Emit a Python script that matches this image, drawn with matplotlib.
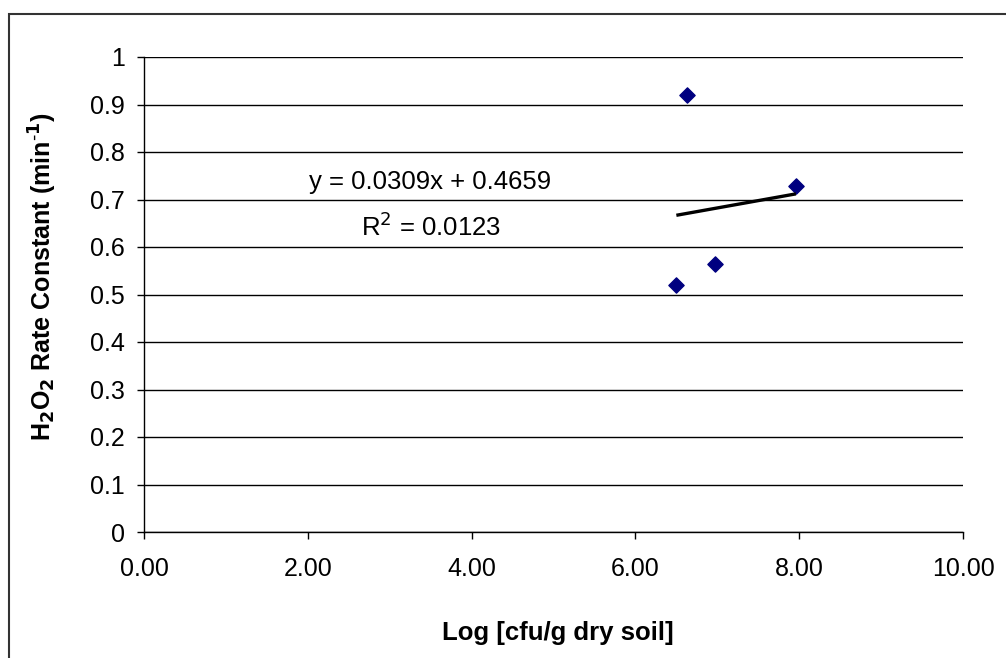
import numpy as np
import matplotlib
matplotlib.use("Agg")
import matplotlib.pyplot as plt
from matplotlib.patches import Rectangle
from matplotlib.ticker import FuncFormatter

plt.rcParams['font.family'] = ['Liberation Sans', 'DejaVu Sans']

# Data
log_cfu = [6.50, 6.626, 6.97, 7.96]
rate_constant = [0.520, 0.9206, 0.5636, 0.729]
eq_slope = 0.0309
eq_intercept = 0.4659
eq_label = "y = 0.0309x + 0.4659"
r2_label = "R$^2$ = 0.0123"
x_ticks = [0, 2, 4, 6, 8, 10]
y_ticks = [0, 0.1, 0.2, 0.3, 0.4, 0.5, 0.6, 0.7, 0.8, 0.9, 1.0]

W, H = 1006, 658
fig = plt.figure(figsize=(W / 100, H / 100), dpi=100)

# outer chart border
fig.patches.append(Rectangle((9 / W, -0.1), 1.2, (H - 14) / H + 0.1,
                             transform=fig.transFigure, fill=False,
                             edgecolor='#333333', linewidth=1.5))

ax = fig.add_axes([144 / W, 1 - 532 / H, (963 - 144) / W, (532 - 57) / H])
ax.set_xlim(0, 10)
ax.set_ylim(0, 1)

for yv in y_ticks:
    ax.axhline(yv, color='black', linewidth=1.0, zorder=1)

ax.scatter(log_cfu, rate_constant, marker='D', s=60, color='#000080',
           edgecolors='#000080', zorder=3)

xs = np.array([min(log_cfu), max(log_cfu)])
ax.plot(xs, eq_slope * xs + eq_intercept, color='black', linewidth=2.4,
        solid_capstyle='butt', zorder=4)

ax.text(3.49, 0.737, eq_label, ha='center', va='center', fontsize=18.5)
ax.text(3.51, 0.642, r2_label, ha='center', va='center', fontsize=18.5)

ax.set_xticks(x_ticks)
ax.set_yticks(y_ticks)
ax.xaxis.set_major_formatter(FuncFormatter(lambda v, p: f"{v:.2f}"))
ax.yaxis.set_major_formatter(FuncFormatter(lambda v, p: f"{v:g}"))
ax.tick_params(axis='both', direction='out', length=5, width=1, color='black',
               labelsize=18)
ax.tick_params(axis='y', pad=9)
ax.tick_params(axis='x', pad=13)

for s in ['top', 'right']:
    ax.spines[s].set_visible(False)
for s in ['left', 'bottom']:
    ax.spines[s].set_color('black')
    ax.spines[s].set_linewidth(1.0)

fig.text(558 / W, 1 - 633 / H, "Log [cfu/g dry soil]", ha='center', va='center',
         fontsize=18.5, fontweight='bold')
fig.text(42.5 / W, 1 - 277 / H,
         "H$_\\mathbf{2}$O$_\\mathbf{2}$ Rate Constant (min$^{\\mathbf{\\text{-}1}}$)",
         ha='center', va='center', rotation=90, fontsize=18, fontweight='bold')

fig.savefig("out.png", dpi=100)
